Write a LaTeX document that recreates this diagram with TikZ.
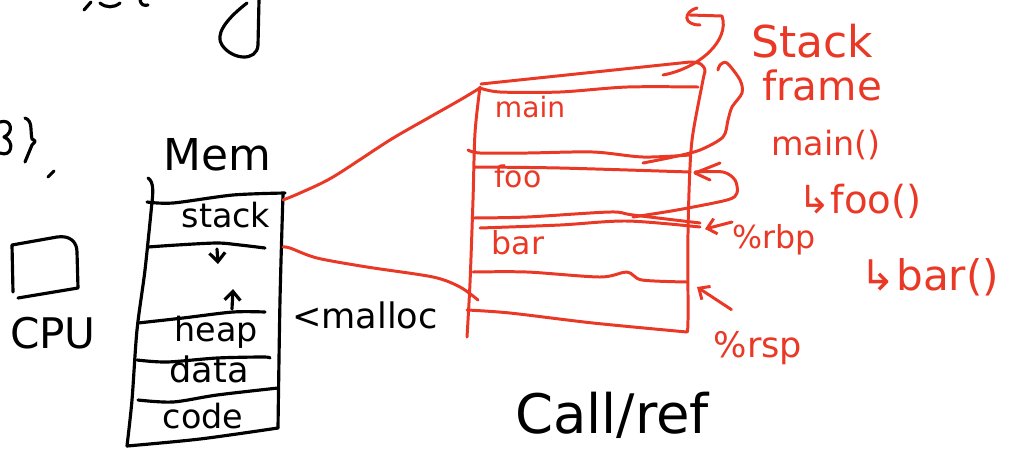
\documentclass[tikz,border=0pt]{standalone}
\usepackage{fontspec}
\setmainfont{DejaVu Sans}
\usetikzlibrary{arrows.meta}
\definecolor{pen}{RGB}{234,56,38}
\begin{document}
\begin{tikzpicture}[x=0.02cm,y=-0.02cm,
  blk/.style={line width=1.8pt, line cap=round, line join=round, black},
  redink/.style={line width=1.7pt, line cap=round, line join=round, pen},
  tip/.style={-{Straight Barb[length=5pt,width=9pt]}},
  btxt/.style={inner sep=0pt, anchor=base, black},
  rtxt/.style={inner sep=0pt, anchor=base, pen},
  fs/.style={font=\fontsize{#1}{#1}\selectfont}]
\useasboundingbox (0,0) rectangle (1024,461);

% ---- cropped fragments at top-left
\draw[blk] (84,10) -- (91,2);
\draw[blk] (100,3) .. controls (106,8) and (114,8) .. (120,3);
\draw[blk] (140,0) .. controls (141,5) and (144,6) .. (148,5);
\draw[blk] (259,0) -- (258,45) .. controls (257,62) and (232,60) .. (222,45)
  .. controls (215,35) and (225,20) .. (247,3);
\draw[blk] (0,122) .. controls (12,118) and (14,133) .. (4,137)
  .. controls (15,141) and (12,158) .. (0,153);
\draw[blk] (25,118) .. controls (33,121) and (30,130) .. (32,139)
  .. controls (36,141) .. (32,145) .. controls (29,154) .. (25,162);
\draw[blk] (48,177) -- (54,171);

% ---- CPU
\draw[blk] (13,292) -- (12,245) -- (57,237) .. controls (70,235) and (77,242) .. (77,252)
  -- (78,288) -- (18,298);
\node[btxt, fs=24] (cpu) at (53,348) {CPU};

% ---- Memory
\node[btxt, fs=25] (mem) at (217,170) {Mem};
\draw[blk] (148,178) .. controls (154,182) and (153,192) .. (152,203);
\draw[blk] plot[smooth] coordinates {(147,202) (173,203) (233,195) (285,193)};
\draw[blk] plot[smooth] coordinates {(152,202) (145,270) (137,330) (132,400) (127,446)};
\draw[blk] plot[smooth] coordinates {(127,446) (200,439) (278,428)};
\draw[blk] plot[smooth] coordinates {(283,194) (280,300) (278,428)};
\draw[blk] plot[smooth] coordinates {(148,247) (177,245) (217,243) (240,245) (265,248)};
\draw[blk] plot[smooth] coordinates {(138,323) (183,318) (233,312) (265,312)};
\draw[blk] plot[smooth] coordinates {(137,360) (167,362) (217,358) (263,357) (270,358)};
\draw[blk] plot[smooth] coordinates {(138,400) (173,402) (217,395) (278,388)};
\node[btxt, fs=19] (stacklbl) at (226,227) {stack};
\node[btxt, fs=19] (heaplbl) at (216,341) {heap};
\node[btxt, fs=20] (datalbl) at (209,382) {data};
\node[btxt, fs=19] (codelbl) at (203,428) {code};
\coordinate (downA) at (217,249);
\coordinate (downB) at (218,264);
\draw[blk, tip] (downA) -- (downB);
\coordinate (upA) at (232,309);
\coordinate (upB) at (233,289);
\draw[blk, tip] (upA) -- (upB);
\node[btxt, fs=20] (malloc) at (365,328) {<malloc};

% ---- links memory -> stack frames
\coordinate (memTop) at (283,200);
\coordinate (memBot) at (283,247);
\coordinate (frTop) at (480,88);
\coordinate (frBot) at (478,300);
\draw[redink] plot[smooth] coordinates {(memTop) (300,193) (333,177) (390,140) (430,117) (460,100) (frTop)};
\draw[redink] plot[smooth] coordinates {(memBot) (290,248) (317,258) (367,267) (433,277) (460,287) (frBot)};

% ---- stack frames box
\draw[redink] plot[smooth] coordinates {(480,87) (475,133) (473,200) (470,283) (467,337)};
\draw[redink] (481,84) -- (690,62) .. controls (700,62) and (705,65) .. (705,72);
\draw[redink] plot[smooth] coordinates {(705,72) (703,80) (693,133) (690,167) (688,233) (688,320) (687,332)};
\draw[redink] plot[smooth] coordinates {(687,332) (593,323) (510,313) (467,310)};
\draw[redink] plot[smooth] coordinates {(480,88) (500,92) (560,92) (627,87) (698,87)};
\draw[redink] plot[smooth] coordinates {(468,150) (480,153) (527,153) (593,152) (643,157) (690,155)};
\draw[redink] plot[smooth] coordinates {(475,167) (560,168) (690,172)};
\draw[redink] plot[smooth] coordinates {(472,218) (527,217) (610,212) (633,215) (700,223)};
\draw[redink] plot[smooth] coordinates {(480,228) (560,225) (627,221) (700,227)};
\draw[redink] plot[smooth] coordinates {(473,272) (527,272) (600,277) (627,272) (642,280) (687,282)};
\node[rtxt, fs=16] (mainf) at (530,117) {main};
\node[rtxt, fs=17] (foof) at (518,187) {foo};
\node[rtxt, fs=18] (barf) at (518,254) {bar};

% ---- braces on the right
\draw[redink] (697,8) .. controls (683,12) and (683,25) .. (700,25);
\draw[redink] (690,15) -- (722,16) .. controls (730,40) and (700,68) .. (663,75);
\draw[redink] plot[smooth] coordinates {(718,70) (720,65) (727,63) (740,80) (742,93) (732,107) (728,120) (723,137) (700,150) (673,157) (643,163)};
\draw[redink] (720,163) -- (695,173) -- (710,180);
\draw[redink] plot[smooth] coordinates {(695,172) (723,172) (735,180) (737,193) (727,200) (677,210) (633,217)};

% ---- labels on the right
\node[rtxt, fs=25] (stk) at (812,57) {Stack};
\node[rtxt, fs=23] (frm) at (822,100) {frame};
\node[rtxt, fs=19] (cmain) at (826,155) {main()};
\node[rtxt, fs=22] (cfoo) at (860,213) {↳foo()};
\node[rtxt, fs=24] (cbar) at (930,290) {↳bar()};
\node[rtxt, fs=18] (rbp) at (774,248) {\%rbp};
\node[rtxt, fs=20] (rsp) at (758,357) {\%rsp};
\coordinate (rbpTo) at (705,229);
\coordinate (rspTo) at (697,287);
\draw[redink, tip] (rbp.west |- 0,222) -- (rbpTo);
\draw[redink, tip] ([xshift=0.36cm,yshift=0.42cm]rsp.north west) -- (rspTo);

\node[btxt, fs=31] (callref) at (612,433) {Call/ref};
\end{tikzpicture}
\end{document}
